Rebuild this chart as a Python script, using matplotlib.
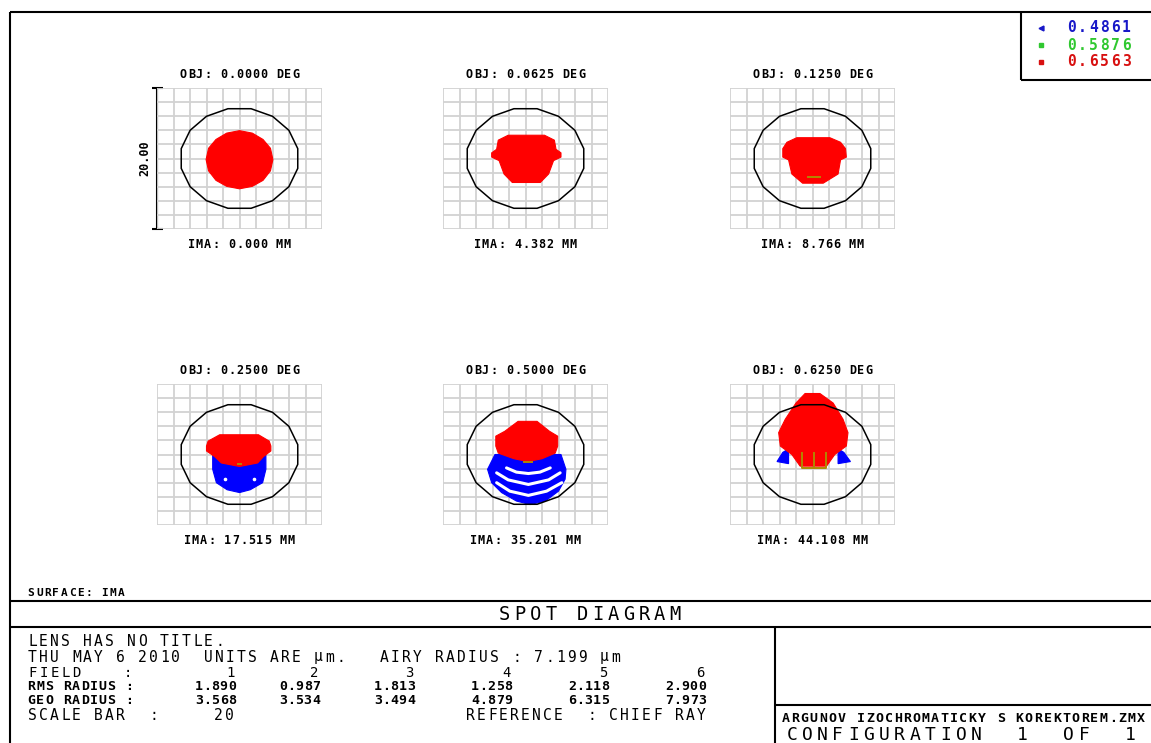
import matplotlib
matplotlib.use("Agg")
import matplotlib.pyplot as plt
import numpy as np
from matplotlib.patches import RegularPolygon

W, H = 1151, 743

# wavelengths (um) and their plot colours
wavelengths = ["0.4861", "0.5876", "0.6563"]
wave_colors = ["#1818c8", "#30c830", "#d81010"]

field_deg = ["0.0000", "0.0625", "0.1250", "0.2500", "0.5000", "0.6250"]
image_mm = ["0.000", "4.382", "8.766", "17.515", "35.201", "44.108"]
rms_radius = ["1.890", "0.987", "1.813", "1.258", "2.118", "2.900"]
geo_radius = ["3.568", "3.534", "3.494", "4.879", "6.315", "7.973"]
airy_radius = 7.199
scale_bar = 20

# spot outlines in um relative to the chief ray, one list per field
red_spots = [
    ([4.05, 3.75, 2.85, 1.55, 0.0, -1.55, -2.85, -3.75, -4.05, -3.75, -2.85, -1.55, 0.0, 1.55, 2.85, 3.75],
     [-0.15, 1.45, 2.7, 3.6, 3.95, 3.6, 2.7, 1.45, -0.15, -1.75, -3.1, -3.95, -4.3, -3.95, -3.1, -1.75]),
    ([-2.1, 2.3, 3.5, 3.7, 4.3, 4.3, 3.4, 2.8, 1.8, -1.6, -2.6, -3.2, -4.1, -4.1, -3.5, -3.3],
     [3.3, 3.3, 2.6, 1.3, 0.8, 0.2, -0.3, -2.2, -3.4, -3.4, -2.2, -0.3, 0.2, 0.8, 1.3, 2.6]),
    ([-1.9, 2.1, 3.4, 4.0, 4.1, 3.4, 3.1, 1.3, -1.2, -2.5, -2.9, -3.6, -3.6, -3.1],
     [2.95, 2.95, 2.3, 1.4, 0.2, -0.2, -2.2, -3.5, -3.5, -2.2, -0.2, 0.2, 1.4, 2.3]),
    ([-2.4, 2.3, 3.6, 3.8, 3.8, 2.9, 2.2, 0.0, -2.2, -3.0, -4.0, -4.0, -3.8],
     [2.8, 2.8, 1.9, 1.2, 0.5, -0.3, -1.2, -1.7, -1.2, -0.3, 0.5, 1.2, 1.9]),
    ([-0.9, 1.4, 2.9, 3.9, 3.9, 3.6, 2.0, 0.3, -1.4, -3.3, -3.6, -3.6, -2.5],
     [4.7, 4.7, 3.3, 2.6, 1.2, 0.2, -0.6, -1.0, -0.6, 0.2, 1.2, 2.6, 3.3]),
    ([-0.9, 0.9, 2.5, 3.7, 4.3, 4.1, 2.7, 1.7, -1.5, -2.5, -3.9, -4.1, -3.3, -2.0],
     [8.65, 8.65, 7.3, 5.0, 3.1, 1.2, 0.0, -1.65, -1.65, 0.0, 1.2, 3.1, 5.0, 7.3]),
]

blue_spots = {
    3: [([-3.25, 3.2, 3.2, 2.8, 1.3, 0.0, -1.5, -2.8, -3.25],
         [0.0, 0.0, -2.1, -4.0, -5.0, -5.4, -5.0, -4.0, -2.1])],
    4: [([-3.7, -4.6, -4.1, -2.9, -1.1, 0.55, 2.4, 4.0, 4.8, 4.9, 4.3],
         [0.0, -2.1, -4.0, -5.4, -6.6, -7.1, -6.6, -5.2, -3.5, -2.1, 0.0])],
    5: [([-2.9, -3.6, -4.3, -2.9], [0.8, 0.3, -1.0, -1.3]),
        ([3.1, 3.8, 4.6, 3.1], [0.8, 0.3, -1.0, -1.3])],
}

# gaps between the blue caustic rings of field 5
ring_gaps = [
    ([-2.3, -1.1, 0.35, 1.75, 3.0], [-1.9, -2.5, -2.7, -2.5, -1.9]),
    ([-3.5, -2.1, 0.35, 2.8, 4.2], [-2.6, -3.6, -4.25, -3.6, -2.6]),
    ([-3.5, -1.9, 0.35, 2.55, 4.4], [-4.0, -5.2, -5.8, -5.2, -4.0]),
]

# overlapping green/red points
olive_marks = {
    2: [([-0.5, 0.9], [-2.6, -2.6])],
    3: [([-0.2, 0.2], [-1.4, -1.4])],
    4: [([-0.2, 0.8], [-1.1, -1.1])],
    5: [([-1.3, -1.3, 1.6, 1.6], [0.2, -1.9, -1.9, 0.2]),
        ([0.2, 0.2], [0.2, -1.9])],
}

box_left = [157, 443, 730]
box_top = [88, 384]
box_w, box_h = 165, 141

fig = plt.figure(figsize=(W / 100, H / 100), dpi=100)
canvas = fig.add_axes([0, 0, 1, 1])
canvas.set_xlim(0, W)
canvas.set_ylim(H, 0)
canvas.axis("off")

MONO = "DejaVu Sans Mono"


def mono(x, y, s, pitch, size, weight="normal", color="black", ha="left"):
    """Draw text on a fixed character pitch, like a plotter font."""
    if ha == "center":
        x -= pitch * len(s) / 2
    elif ha == "right":
        x -= pitch * len(s)
    for i, ch in enumerate(s):
        if ch != " ":
            canvas.text(x + (i + 0.5) * pitch, y, ch, ha="center", va="center",
                        fontsize=size, fontweight=weight, family=MONO, color=color)


def hline(y, x0, x1):
    canvas.plot([x0, x1], [y, y], color="black", lw=1.5, solid_capstyle="butt")


def vline(x, y0, y1):
    canvas.plot([x, x], [y0, y1], color="black", lw=1.5, solid_capstyle="butt")


# page frame and title block
hline(12, 10, W)
vline(10, 12, H)
hline(601, 10, W)
hline(627, 10, W)
vline(775, 627, H)
hline(705, 775, W)
vline(1021, 12, 80)
hline(80, 1021, W)

# wavelength key
for k, (wl, col) in enumerate(zip(wavelengths, wave_colors)):
    yk = 28 + k * 17
    marker = ["<", "s", "s"][k]
    canvas.plot(1041, yk, marker, ms=[3.5, 2.5, 3.5][k], color=col, mec=col)
    mono(1066, yk, wl, 11, 10.5, "bold", col)

grid_lines = np.arange(-10, 11, 2)

for i in range(6):
    r, c = divmod(i, 3)
    left, top = box_left[c], box_top[r]
    ax = fig.add_axes([left / W, 1 - (top + box_h) / H, box_w / W, box_h / H])
    ax.set_xlim(-10, 10)
    ax.set_ylim(-10, 10)
    ax.axis("off")
    ax.vlines(grid_lines, -10, 10, color="#d2d2d2", lw=1.3, zorder=1)
    ax.hlines(grid_lines, -10, 10, color="#d2d2d2", lw=1.3, zorder=1)

    for xs, ys in blue_spots.get(i, []):
        ax.fill(xs, ys, color="#0000ff", ec="#0000ff", lw=0.8, zorder=3)
    if i == 4:
        for xs, ys in ring_gaps:
            ax.plot(xs, ys, color="white", lw=2.2, solid_capstyle="round", zorder=3.5)
    if i == 3:
        ax.plot([-1.75, 1.7], [-3.5, -3.5], "o", ms=1.6, color="white", zorder=3.5)
    xs, ys = red_spots[i]
    ax.fill(xs, ys, color="#ff0000", ec="#ff0000", lw=0.8, zorder=4)
    for xs, ys in olive_marks.get(i, []):
        ax.plot(xs, ys, color="#b08800", lw=1.4, zorder=5)

    ax.add_patch(RegularPolygon((0, 0), numVertices=16, radius=airy_radius,
                                orientation=np.pi / 16, fill=False,
                                ec="black", lw=1.1, zorder=6))

    cx = left + box_w / 2
    mono(cx, top - 14, f"OBJ: {field_deg[i]} DEG", 8, 8.5, "bold", ha="center")
    mono(cx, top + box_h + 16, f"IMA: {image_mm[i]} MM", 8, 8.5, "bold", ha="center")

# scale bar beside the first spot box
sb_x = box_left[0]
vline(sb_x, box_top[0], box_top[0] + box_h)
hline(box_top[0], sb_x - 5, sb_x + 6)
hline(box_top[0] + box_h, sb_x - 5, sb_x + 6)
canvas.text(145, box_top[0] + box_h / 2, f"{scale_bar:.2f}", rotation=90,
            ha="center", va="center", fontsize=8.5, fontweight="bold", family=MONO)

# text block
mono(27, 593, "SURFACE: IMA", 8.2, 8, "bold")
mono(590, 614, "SPOT DIAGRAM", 15.5, 13.5, ha="center")
mono(27, 642, "LENS HAS NO TITLE.", 11, 10.5)
mono(27, 657, "THU MAY 6 2010  UNITS ARE \u00b5m.   AIRY RADIUS : "
     f"{airy_radius:.3f} \u00b5m", 11, 10.5)

col_right = [236, 320, 415, 512, 609, 706]
mono(27, 673, "FIELD", 11, 10)
mono(122, 673, ":", 11, 10)
mono(27, 687, "RMS RADIUS :", 8.9, 9.5, "bold")
mono(27, 700, "GEO RADIUS :", 8.9, 9.5, "bold")
for j in range(6):
    mono(col_right[j], 673, str(j + 1), 11, 10, ha="right")
    mono(col_right[j], 687, rms_radius[j], 8.2, 9.5, "bold", ha="right")
    mono(col_right[j], 700, geo_radius[j], 8.2, 9.5, "bold", ha="right")
mono(27, 716, "SCALE BAR", 11, 10.5)
mono(148, 716, ":", 11, 10.5)
mono(235, 716, str(scale_bar), 11, 10.5, ha="right")
mono(465, 716, "REFERENCE  : CHIEF RAY", 11, 10.5)

mono(781, 719, "ARGUNOV IZOCHROMATICKY S KOREKTOREM.ZMX", 9.35, 9.5, "bold")
mono(784, 735, "CONFIGURATION  1  OF  1", 15.4, 13)

fig.savefig("out.png", dpi=100)
